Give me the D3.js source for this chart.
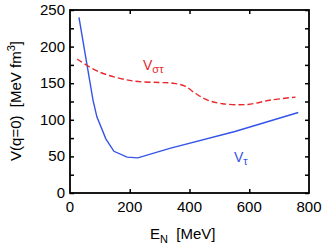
<!DOCTYPE html>
<html>
<head>
  <script src="https://cdn.jsdelivr.net/npm/d3@7/dist/d3.min.js"></script>
  <style>
    body { margin: 0; background: #fff; }
    text { font-family: "Liberation Sans", Arial, sans-serif; }
  </style>
</head>
<body>
  <svg width="322" height="249" id="mainsvg"></svg>
  <script>
    // data
    const vtauE = [30, 77, 90, 120, 147, 191, 227, 334, 552, 764];
    const vtauV = [240, 127, 104, 74, 57, 49, 48, 61, 84, 110];
    const vstE = [24, 100, 212, 300, 345, 385, 420, 460, 510, 595, 672, 755];
    const vstV = [183, 165, 153, 151, 150, 146, 136, 127, 122, 121, 127, 131];
    const xTicks = [0, 200, 400, 600, 800];
    const yTicks = [0, 50, 100, 150, 200, 250];

    const svg = d3.select('#mainsvg');
    const width = +svg.attr('width');
    const height = +svg.attr('height');
    const margin = { top: 10, right: 13, bottom: 56, left: 70 };

    // scales in page coordinates
    const xScale = d3.scaleLinear().domain([0, 800]).range([margin.left, width - margin.right]);
    const yScale = d3.scaleLinear().domain([0, 250]).range([height - margin.bottom, margin.top]);
    const x0 = margin.left, x1 = width - margin.right;
    const y0 = height - margin.bottom, y1 = margin.top;

    // ticks pointing inward on all four sides
    const tickLen = 4;
    const minor = d3.range(0, 251, 25);
    svg.append('g').call(d3.axisBottom(xScale).tickValues(xTicks.slice(1, -1)).tickSize(-tickLen))
      .attr('transform', `translate(0, ${y0})`);
    svg.append('g').call(d3.axisTop(xScale).tickValues(xTicks.slice(1, -1)).tickSize(-tickLen))
      .attr('transform', `translate(0, ${y1})`);
    svg.append('g').call(d3.axisLeft(yScale).tickValues(minor).tickSize(-tickLen))
      .attr('transform', `translate(${x0}, 0)`);
    svg.append('g').call(d3.axisRight(yScale).tickValues(minor).tickSize(-tickLen))
      .attr('transform', `translate(${x1}, 0)`);
    svg.selectAll('.domain').remove();
    svg.selectAll('.tick text').remove();
    svg.selectAll('.tick line').attr('stroke', '#000').attr('stroke-width', 1.5);

    svg.append('rect')
      .attr('x', x0).attr('y', y1)
      .attr('width', x1 - x0).attr('height', y0 - y1)
      .attr('fill', 'none').attr('stroke', '#000').attr('stroke-width', 1.8);

    // tick labels
    svg.selectAll('.xlab').data(xTicks).enter().append('text')
      .attr('class', 'xlab')
      .attr('x', d => xScale(d)).attr('y', y0 + 19)
      .attr('text-anchor', 'middle').attr('font-size', 15).text(d => d);
    svg.selectAll('.ylab').data(yTicks).enter().append('text')
      .attr('class', 'ylab')
      .attr('x', x0 - 5).attr('y', d => yScale(d) + 5)
      .attr('text-anchor', 'end').attr('font-size', 15).text(d => d);

    // curves
    const blueLine = d3.line()
      .x(d => xScale(d[0]))
      .y(d => yScale(d[1]));
    const redLine = d3.line()
      .x(d => xScale(d[0]))
      .y(d => yScale(d[1]))
      .curve(d3.curveCatmullRom.alpha(0.5));

    svg.append('path').datum(d3.zip(vtauE, vtauV))
      .attr('fill', 'none').attr('stroke', '#3553e8').attr('stroke-width', 1.4)
      .attr('d', blueLine);
    svg.append('path').datum(d3.zip(vstE, vstV))
      .attr('fill', 'none').attr('stroke', '#e8282c').attr('stroke-width', 1.4)
      .attr('stroke-dasharray', '6,3')
      .attr('d', redLine);

    // curve labels
    const l1 = svg.append('text').attr('x', 143).attr('y', 70).attr('font-size', 14).attr('fill', '#e8282c');
    l1.append('tspan').text('V');
    l1.append('tspan').attr('dy', 3).attr('font-size', 11).text('στ');
    const l2 = svg.append('text').attr('x', 234).attr('y', 162).attr('font-size', 14).attr('fill', '#3553e8');
    l2.append('tspan').text('V');
    l2.append('tspan').attr('dy', 3).attr('font-size', 11).text('τ');

    // axis titles
    const xt = svg.append('text').attr('x', 150).attr('y', 239).attr('font-size', 15)
      .attr('xml:space', 'preserve');
    xt.append('tspan').text('E');
    xt.append('tspan').attr('dy', 4).attr('font-size', 11).text('N');
    xt.append('tspan').attr('dy', -4).text('  [MeV]');

    const yt = svg.append('text').attr('transform', 'translate(21, 101) rotate(-90)')
      .attr('text-anchor', 'middle').attr('font-size', 15).attr('xml:space', 'preserve');
    yt.append('tspan').text('V(q=0)  [MeV fm');
    yt.append('tspan').attr('dy', -6).attr('font-size', 11).text('3');
    yt.append('tspan').attr('dy', 6).text(']');
  </script>
</body>
</html>
